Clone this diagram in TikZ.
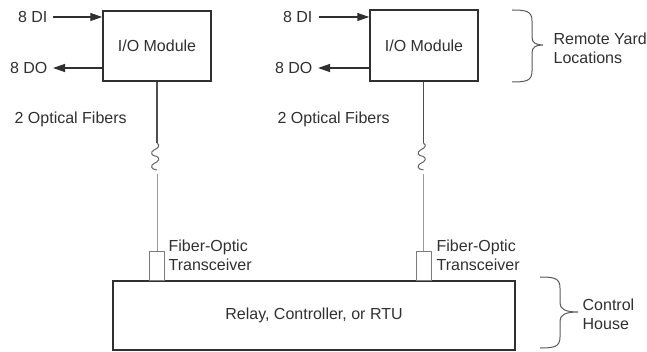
\documentclass[tikz,border=0pt]{standalone}
\usepackage{fontspec}
\setmainfont{Liberation Sans}
\usetikzlibrary{arrows.meta}
\definecolor{ink}{HTML}{303030}
\definecolor{fibre}{HTML}{9A9A9A}

\begin{document}
\begin{tikzpicture}[x=1pt,y=-1pt,line width=1.3pt,font=\fontsize{16}{19}\selectfont,text=ink,
  >={Triangle[length=12pt,width=8pt]},
  box/.style={draw=ink,line width=1.5pt,inner sep=0pt},
  xcvr/.style={draw=fibre!80!black,line width=1pt,minimum width=15pt,minimum height=29pt,inner sep=0pt},
  lbl/.style={align=left,inner sep=0pt},
  fib/.style={draw=fibre,line width=1pt},
  wave/.pic={\draw[ink!75,line width=1pt] (0,0) .. controls (3,2) and (2,5) .. (-3,7)
      .. controls (-7,9) and (-6,13) .. (0,13.5) .. controls (3,15.5) and (2,18.5) .. (-3,20.5)
      .. controls (-7,22.5) and (-6,26.5) .. (0,27);}]
  \useasboundingbox (0,0) rectangle (647,352);
  % remote yard modules
  \node[box,minimum width=108pt,minimum height=70pt] (iomA) at (157,46) {I/O Module};
  \node[box,minimum width=108pt,minimum height=71pt] (iomB) at (424,45.5) {I/O Module};
  \node[lbl,anchor=east] (diA) at (48,17) {8 DI};
  \node[lbl,anchor=east] (doA) at (48,68) {8 DO};
  \node[lbl,anchor=east] (diB) at (313,17) {8 DI};
  \node[lbl,anchor=east] (doB) at (313,68) {8 DO};
  \draw[->,ink] ([xshift=5pt]diA.east) -- (diA.east -| iomA.west);
  \draw[->,ink] (doA.east -| iomA.west) -- ([xshift=5pt]doA.east);
  \draw[->,ink] ([xshift=6pt]diB.east) -- (diB.east -| iomB.west);
  \draw[->,ink] (doB.east -| iomB.west) -- ([xshift=5pt]doB.east);
  % control house
  \node[box,minimum width=402pt,minimum height=69pt] (rtu) at (314,315.5) {Relay, Controller, or RTU};
  \node[xcvr] (xcvA) at (157,266.5) {};
  \node[xcvr] (xcvB) at (423.5,266.5) {};
  % fibres with break symbol
  \coordinate (wA1) at (157,143);
  \coordinate (wA2) at (157,174);
  \coordinate (wB1) at (423.5,143);
  \coordinate (wB2) at (423.5,174);
  \draw[ink!85] (iomA.south) -- (wA1);
  \draw[ink!85] (wB1 |- iomB.south) -- (wB1);
  \pic at (wA1) {wave};
  \pic at (wB1) {wave};
  \draw[fib] (wA2) -- (xcvA.north);
  \draw[fib] (wB2) -- (xcvB.north);
  \node[lbl,anchor=base west] (ofA) at (14,123.5) {2 Optical Fibers};
  \node[lbl,anchor=base west] (ofB) at (277,123.5) {2 Optical Fibers};
  \node[lbl,anchor=west] (txA) at (168,255.5) {Fiber-Optic\\Transceiver};
  \node[lbl,anchor=west] (txB) at (436,255.5) {Fiber-Optic\\Transceiver};
  % braces
  \draw[ink!80,line width=1pt] (512,10) .. controls (526,10) and (532,11) .. (532,21) -- (532,37)
    .. controls (532,43) and (536,45) .. (543,45) .. controls (536,45) and (532,47) .. (532,53)
    -- (532,71) .. controls (532,81) and (526,82) .. (512,82);
  \draw[ink!80,line width=1pt] (540,277) .. controls (554,277) and (560,278) .. (560,288) -- (560,303)
    .. controls (560,309) and (565,312) .. (578,312) .. controls (565,312) and (560,315) .. (560,321)
    -- (560,337) .. controls (560,347) and (554,348) .. (540,348);
  \node[lbl,anchor=west] (yard) at (553,48.5) {Remote Yard\\Locations};
  \node[lbl,anchor=west] (house) at (582,314) {Control\\House};
\end{tikzpicture}
\end{document}
